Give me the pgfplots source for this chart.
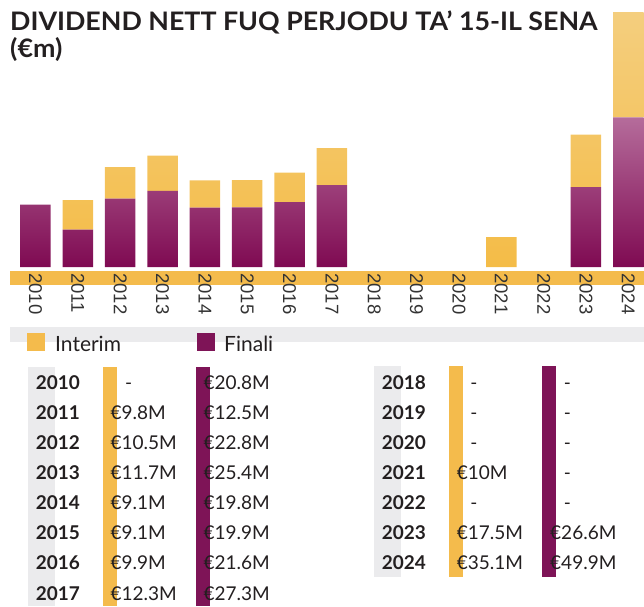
\documentclass[border=0pt]{standalone}
\usepackage{fontspec}
\setmainfont{Lato}
\newfontfamily\arialfont{Liberation Sans}
\usepackage{pgfplots}
\pgfplotsset{compat=1.18}

\definecolor{purpleTop}{HTML}{B56C9B}
\definecolor{purpleBot}{HTML}{7F0A52}
\definecolor{orangeTop}{HTML}{F4CE7E}
\definecolor{orangeBot}{HTML}{F4BC47}
\definecolor{stripOrange}{HTML}{F4BB4C}
\definecolor{stripPurple}{HTML}{7E1457}
\definecolor{bandGray}{HTML}{EBEBED}
\definecolor{txt}{HTML}{231F20}
\definecolor{tickGray}{HTML}{333333}

\newcommand{\yr}[3]{\node[anchor=base west, inner sep=0pt, font=\bfseries\fontsize{19}{20}\selectfont, text=txt] at (#1,#2) {#3};}
\newcommand{\val}[3]{\node[anchor=base west, inner sep=0pt, font=\fontsize{19}{20}\selectfont, text=txt] at (#1,#2) {#3};}
\newcommand{\dash}[2]{\node[anchor=base, inner sep=0pt, font=\fontsize{19}{20}\selectfont, text=txt] at (#1,#2) {-};}

\begin{document}
\begin{tikzpicture}[x=1pt,y=1pt]
% title
\node[anchor=base west, inner sep=0pt, xscale=1.05, font=\bfseries\fontsize{25.5}{28}\selectfont, text=txt] at (10,575.3) {DIVIDEND NETT FUQ PERJODU TA’ 15-IL SENA};
\node[anchor=base west, inner sep=0pt, xscale=1.05, font=\bfseries\fontsize{25.5}{28}\selectfont, text=txt] at (10,548.7) {(€m)};

% orange strip under the bars
\fill[stripOrange] (10,321) rectangle (644,335);

\begin{axis}[
    at={(10pt,339pt)}, anchor=south west,
    scale only axis, width=634pt, height=267pt,
    xmin=-0.602, xmax=14.37, ymin=0, ymax=89,
    ybar stacked, bar width=30.5pt,
    axis line style={draw=none},
    ytick=\empty,
    xtick={0,...,14},
    xticklabels={2010,2011,2012,2013,2014,2015,2016,2017,2018,2019,2020,2021,2022,2023,2024},
    major tick length=0pt,
    xticklabel shift=6pt,
    xticklabel style={rotate=-90, anchor=west, inner sep=0pt,
        font=\arialfont\fontsize{18.5}{20}\selectfont, text=tickGray},
]
% Finali
\addplot[draw=none, top color=purpleTop, bottom color=purpleBot] coordinates {
    (0,20.8) (1,12.5) (2,22.8) (3,25.4) (4,19.8) (5,19.9) (6,21.6) (7,27.3)
    (8,0) (9,0) (10,0) (11,0) (12,0) (13,26.6) (14,49.9)};
% Interim
\addplot[draw=none, top color=orangeTop, bottom color=orangeBot] coordinates {
    (0,0) (1,9.8) (2,10.5) (3,11.7) (4,9.1) (5,9.1) (6,9.9) (7,12.3)
    (8,0) (9,0) (10,0) (11,10) (12,0) (13,17.5) (14,35.1)};
\end{axis}

% legend
\fill[bandGray] (10,264) rectangle (644,279);
\fill[stripOrange] (27,255) rectangle (45,273);
\node[anchor=base west, inner sep=0pt, font=\fontsize{21}{23}\selectfont, text=txt] at (55,255) {Interim};
\fill[stripPurple] (197,255) rectangle (215,273);
\node[anchor=base west, inner sep=0pt, font=\fontsize{21}{23}\selectfont, text=txt] at (224,255) {Finali};

% table strips
\fill[bandGray] (28,0) rectangle (55,239);
\fill[stripOrange] (103,0) rectangle (117,239);
\fill[stripPurple] (196,0) rectangle (210,239);
\fill[bandGray] (374,29) rectangle (401,240);
\fill[stripOrange] (449,29) rectangle (463,240);
\fill[stripPurple] (542,29) rectangle (556,240);

% left table
\yr{35.7}{216.7}{2010} \dash{128.7}{216.7}     \val{203.3}{216.7}{€20.8M}
\yr{35.7}{186.6}{2011} \val{110.3}{186.6}{€9.8M}  \val{203.3}{186.6}{€12.5M}
\yr{35.7}{156.5}{2012} \val{110.3}{156.5}{€10.5M} \val{203.3}{156.5}{€22.8M}
\yr{35.7}{126.4}{2013} \val{110.3}{126.4}{€11.7M} \val{203.3}{126.4}{€25.4M}
\yr{35.7}{96.3}{2014}  \val{110.3}{96.3}{€9.1M}   \val{203.3}{96.3}{€19.8M}
\yr{35.7}{66.2}{2015}  \val{110.3}{66.2}{€9.1M}   \val{203.3}{66.2}{€19.9M}
\yr{35.7}{36.1}{2016}  \val{110.3}{36.1}{€9.9M}   \val{203.3}{36.1}{€21.6M}
\yr{35.7}{6.0}{2017}   \val{110.3}{6.0}{€12.3M}   \val{203.3}{6.0}{€27.3M}

% right table
\yr{381.7}{216.7}{2018} \dash{474}{216.7} \dash{567.5}{216.7}
\yr{381.7}{186.6}{2019} \dash{474}{186.6} \dash{567.5}{186.6}
\yr{381.7}{156.5}{2020} \dash{474}{156.5} \dash{567.5}{156.5}
\yr{381.7}{126.4}{2021} \val{456.7}{126.4}{€10M} \dash{567.5}{126.4}
\yr{381.7}{96.3}{2022}  \dash{474}{96.3} \dash{567.5}{96.3}
\yr{381.7}{66.2}{2023}  \val{456.7}{66.2}{€17.5M} \val{550}{66.2}{€26.6M}
\yr{381.7}{36.1}{2024}  \val{456.7}{36.1}{€35.1M} \val{550}{36.1}{€49.9M}

\pgfresetboundingbox
\useasboundingbox (0,0) rectangle (644,606);
\end{tikzpicture}
\end{document}
